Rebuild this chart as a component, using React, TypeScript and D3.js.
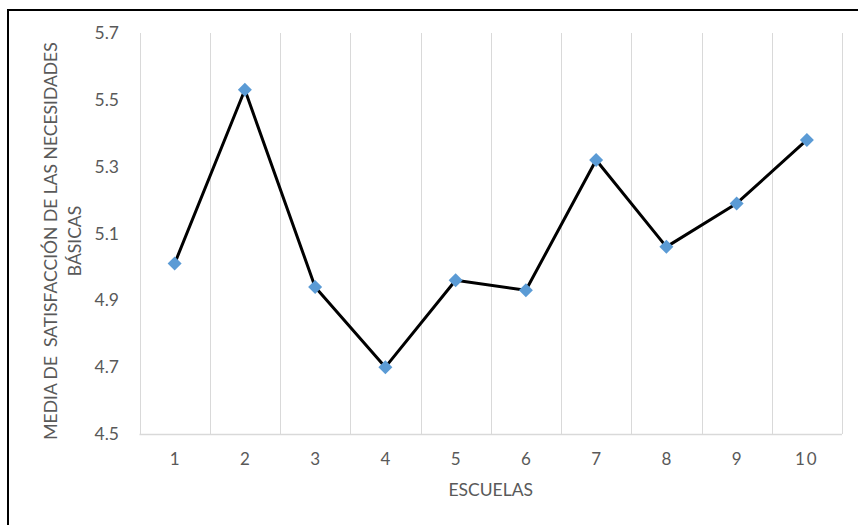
import React, { useEffect, useRef } from 'react';
import * as d3 from 'd3';

const escuelas: string[] = ['1', '2', '3', '4', '5', '6', '7', '8', '9', '10'];
const medias: number[] = [5.01, 5.53, 4.94, 4.7, 4.96, 4.93, 5.32, 5.06, 5.19, 5.38];
const yTicks: number[] = [4.5, 4.7, 4.9, 5.1, 5.3, 5.5, 5.7];

const W = 858;
const H = 525;
const margin = { top: 33, right: 16, bottom: 91, left: 139.5 };
const FONT = 'Lato, "Open Sans", sans-serif';

const App: React.FC = () => {
  const ref = useRef<SVGSVGElement | null>(null);

  useEffect(() => {
    const svg = d3.select(ref.current);
    svg.selectAll('*').remove();

    const x = d3
      .scaleBand<string>()
      .domain(escuelas)
      .range([margin.left, W - margin.right])
      .paddingInner(0)
      .paddingOuter(0);

    const y = d3
      .scaleLinear()
      .domain([4.5, 5.7])
      .range([H - margin.bottom, margin.top]);

    // outer frame
    svg
      .append('rect')
      .attr('x', 8)
      .attr('y', 10)
      .attr('width', W + 10)
      .attr('height', H + 10)
      .attr('fill', 'white')
      .attr('stroke', '#000')
      .attr('stroke-width', 2);

    // vertical gridlines at category boundaries
    const bounds = escuelas.map((d) => x(d) as number).concat([x.range()[1]]);
    svg
      .append('g')
      .selectAll('line')
      .data(bounds)
      .enter()
      .append('line')
      .attr('x1', (d) => Math.round(d) + 0.5)
      .attr('x2', (d) => Math.round(d) + 0.5)
      .attr('y1', y(5.7))
      .attr('y2', y(4.5))
      .attr('stroke', '#d9d9d9')
      .attr('stroke-width', 1);

    // bottom axis line
    svg
      .append('line')
      .attr('x1', x.range()[0])
      .attr('x2', x.range()[1])
      .attr('y1', Math.round(y(4.5)) + 0.5)
      .attr('y2', Math.round(y(4.5)) + 0.5)
      .attr('stroke', '#d9d9d9')
      .attr('stroke-width', 1.5);

    // y tick labels
    svg
      .append('g')
      .selectAll('text')
      .data(yTicks)
      .enter()
      .append('text')
      .attr('x', 119)
      .attr('y', (d) => y(d))
      .attr('dy', '0.35em')
      .attr('text-anchor', 'end')
      .attr('font-family', FONT)
      .attr('font-size', 17.5)
      .attr('fill', '#595959')
      .text((d) => d.toFixed(1));

    // x tick labels
    svg
      .append('g')
      .selectAll('text')
      .data(escuelas)
      .enter()
      .append('text')
      .attr('x', (d) => (x(d) as number) + x.bandwidth() / 2)
      .attr('y', 465)
      .attr('text-anchor', 'middle')
      .attr('font-family', FONT)
      .attr('font-size', 17)
      .attr('letter-spacing', (d) => (d.length > 1 ? 2 : 0))
      .attr('fill', '#595959')
      .text((d) => d);

    // x axis title
    svg
      .append('text')
      .attr('x', (x.range()[0] + x.range()[1]) / 2)
      .attr('y', 496)
      .attr('text-anchor', 'middle')
      .attr('font-family', FONT)
      .attr('font-size', 17.5)
      .attr('fill', '#595959')
      .text('ESCUELAS');

    // y axis title (two lines)
    const yt = svg
      .append('text')
      .attr('transform', 'translate(0,241) rotate(-90)')
      .attr('text-anchor', 'middle')
      .attr('font-family', FONT)
      .attr('font-size', 17.5)
      .attr('fill', '#595959');
    yt.append('tspan').attr('x', 0).attr('y', 57).attr('xml:space', 'preserve').text('MEDIA DE  SATISFACCIÓN DE LAS NECESIDADES');
    yt.append('tspan').attr('x', 0).attr('y', 81).text('BÁSICAS');

    const cx = (d: string) => (x(d) as number) + x.bandwidth() / 2;

    const line = d3
      .line<number>()
      .x((_, i) => cx(escuelas[i]))
      .y((d) => y(d));

    svg
      .append('path')
      .datum(medias)
      .attr('d', line)
      .attr('fill', 'none')
      .attr('stroke', '#000')
      .attr('stroke-width', 3)
      .attr('stroke-linejoin', 'round');

    const sym = d3.symbol().type(d3.symbolSquare).size(98);
    svg
      .append('g')
      .selectAll('path')
      .data(medias)
      .enter()
      .append('path')
      .attr('d', sym)
      .attr('transform', (d, i) => `translate(${cx(escuelas[i])},${y(d)}) rotate(45)`)
      .attr('fill', '#5b9bd5');
  }, []);

  return <svg ref={ref} width={W} height={H} style={{ display: 'block', position: 'absolute', left: 0, top: 0 }} />;
};

export default App;
